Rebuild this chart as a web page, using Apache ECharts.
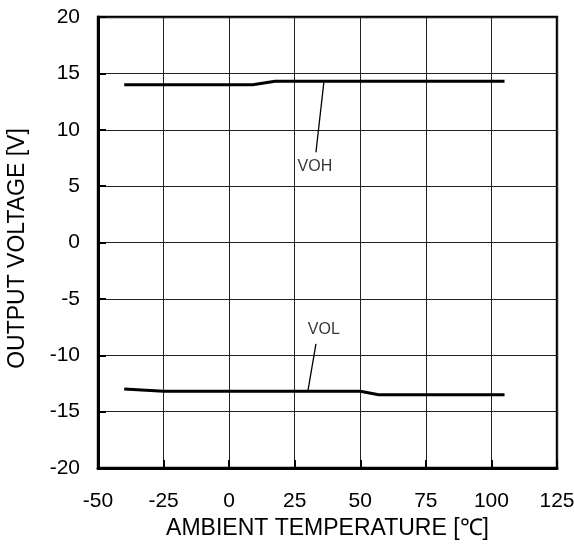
<!DOCTYPE html>
<html>
<head>
<meta charset="utf-8">
<script src="https://cdn.jsdelivr.net/npm/echarts@6/dist/echarts.min.js"></script>
<style>html,body{margin:0;padding:0;background:#fff}#c{width:574px;height:552px}</style>
</head>
<body>
<div id="c"></div>
<script>
// Data
const tempVOH = [-40, 9, 17.5, 105];
const voh = [14.0, 14.0, 14.3, 14.3];
const tempVOL = [-40, -25, 50, 57, 105];
const vol = [-13.0, -13.2, -13.2, -13.5, -13.5];
const xTicks = [-50, -25, 0, 25, 50, 75, 100, 125];
const yTicks = [-20, -15, -10, -5, 0, 5, 10, 15, 20];
// annotation leaders (data coordinates)
const vohLeaderX = [36.1, 33.1];
const vohLeaderY = [14.2, 8.0];
const volLeaderX = [33.1, 30.0];
const volLeaderY = [-9.0, -13.2];
const labelNames = ['VOH', 'VOL'];
const labelX = [32.7, 36.1];
const labelY = [6.7, -7.7];

const font = 'Liberation Sans, Arial, sans-serif';
const zip = (a, b) => a.map((v, i) => [v, b[i]]);

const chart = echarts.init(document.getElementById('c'));
chart.setOption({
  animation: false,
  backgroundColor: '#fff',
  grid: {left: 98, right: 17, top: 17, bottom: 84, outerBoundsMode: 'none', containLabel: false,
    show: true, borderColor: '#000', borderWidth: 2.4, backgroundColor: 'transparent'},
  xAxis: {
    type: 'value', min: xTicks[0], max: xTicks[xTicks.length - 1], interval: 25,
    name: 'AMBIENT TEMPERATURE [℃]', nameLocation: 'middle', nameGap: 45,
    nameTextStyle: {fontFamily: font, fontSize: 23, color: '#000'},
    axisLine: {show: true, onZero: false, lineStyle: {color: '#000', width: 3}},
    axisTick: {show: true, inside: true, length: 8, lineStyle: {color: '#000', width: 2}},
    axisLabel: {fontFamily: font, fontSize: 21, color: '#000', margin: 23},
    splitLine: {show: true, lineStyle: {color: '#222', width: 1}}
  },
  yAxis: {
    type: 'value', min: yTicks[0], max: yTicks[yTicks.length - 1], interval: 5,
    name: 'OUTPUT VOLTAGE [V]', nameLocation: 'middle', nameGap: 69,
    nameTextStyle: {fontFamily: font, fontSize: 23, color: '#000', padding: [0, 12, 0, 0]},
    axisLine: {show: true, onZero: false, lineStyle: {color: '#000', width: 3}},
    axisTick: {show: true, inside: true, length: 8, lineStyle: {color: '#000', width: 2}},
    axisLabel: {fontFamily: font, fontSize: 21, color: '#000', margin: 18},
    splitLine: {show: true, lineStyle: {color: '#222', width: 1}}
  },
  series: [
    {type: 'line', data: zip(tempVOH, voh), showSymbol: false, lineStyle: {color: '#000', width: 3}, z: 5},
    {type: 'line', data: zip(tempVOL, vol), showSymbol: false, lineStyle: {color: '#000', width: 3}, z: 5},
    {type: 'line', data: zip(vohLeaderX, vohLeaderY), showSymbol: false, lineStyle: {color: '#000', width: 1.3}, z: 4},
    {type: 'line', data: zip(volLeaderX, volLeaderY), showSymbol: false, lineStyle: {color: '#000', width: 1.3}, z: 4},
    {type: 'scatter', symbolSize: 0, data: labelX.map((x, i) => ({value: [x, labelY[i]], name: labelNames[i]})),
      label: {show: true, position: 'inside', formatter: p => p.name, fontFamily: font, fontSize: 16, color: '#000'}, z: 6}
  ]
});
</script>
</body>
</html>
